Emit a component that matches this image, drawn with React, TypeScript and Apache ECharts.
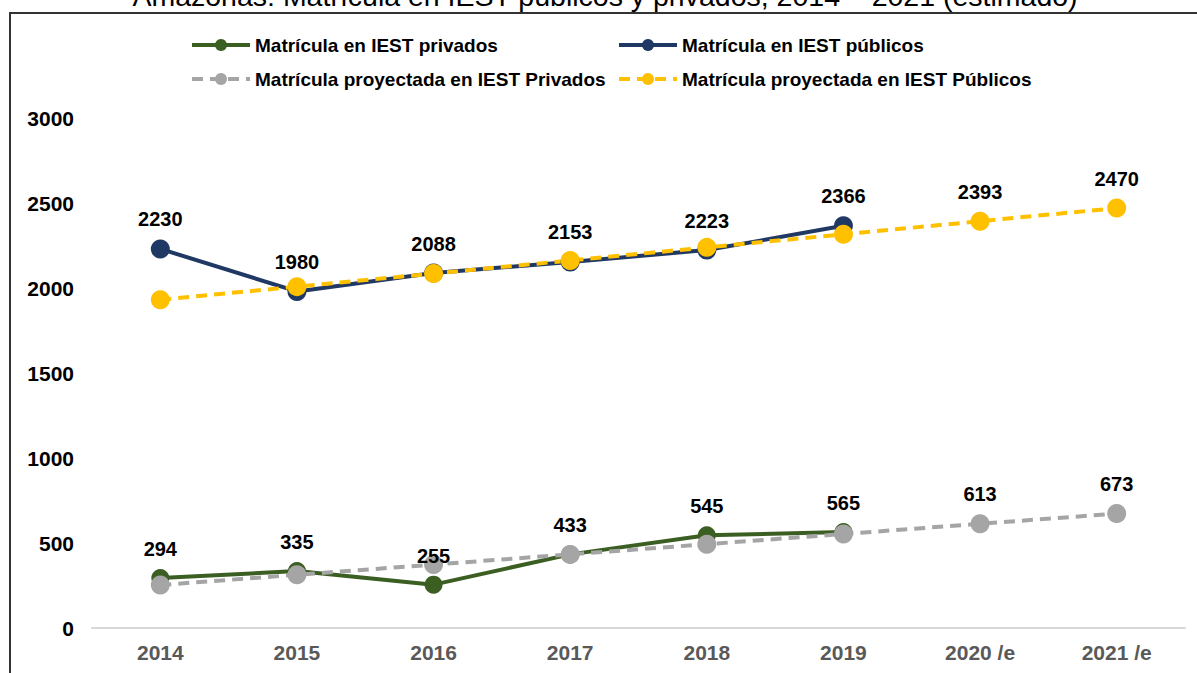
import React, { useEffect, useRef } from "react";
import * as echarts from "echarts";

const years = ["2014", "2015", "2016", "2017", "2018", "2019", "2020 /e", "2021 /e"];
const privados = [294, 335, 255, 433, 545, 565, null, null];
const publicos = [2230, 1980, 2088, 2153, 2223, 2366, null, null];
const proyPrivados = [253, 313, 373, 433, 493, 553, 613, 673];
const proyPublicos = [1931, 2008, 2085, 2162, 2239, 2316, 2393, 2470];
const yTicks = { min: 0, max: 3000, interval: 500 };

const nPriv = "Matrícula en IEST privados";
const nPub = "Matrícula en IEST públicos";
const nProyPriv = "Matrícula proyectada en IEST Privados";
const nProyPub = "Matrícula proyectada en IEST Públicos";
const titleText = "Amazonas: Matrícula en IEST públicos y privados, 2014 – 2021 (estimado)";

const FONT = "'Liberation Sans', Arial, sans-serif";

export default function App() {
  const ref = useRef<HTMLDivElement>(null);
  useEffect(() => {
    if (!ref.current) return;
    const chart = echarts.init(ref.current, null, { renderer: "svg" });
    const labelBase = {
      show: true,
      position: "top",
      distance: 10,
      color: "#000",
      fontWeight: "bold",
      fontSize: 20,
      fontFamily: FONT,
    };
    const projData = (arr: number[]) =>
      arr.map((v, i) => ({ value: v, label: { show: i >= 6 } }));
    const legendText = { color: "#000", fontWeight: "bold", fontSize: 19, fontFamily: FONT, lineHeight: 20 };
    const legendCommon = {
      orient: "vertical",
      top: 35,
      padding: 0,
      itemWidth: 58,
      itemHeight: 15,
      itemGap: 14,
      textStyle: legendText,
      lineStyle: { width: 4 },
    };
    chart.setOption({
      animation: false,
      graphic: [
        {
          type: "rect",
          shape: { x: 10, y: 13, width: 1250, height: 750 },
          style: { fill: "none", stroke: "#333", lineWidth: 2 },
          z: 0,
        },
        {
          type: "text",
          x: 605,
          y: 10,
          style: {
            text: titleText,
            font: `28.5px ${FONT}`,
            fill: "#000",
            textAlign: "center",
            textVerticalAlign: "bottom",
          },
        },
      ],
      legend: [
        { ...legendCommon, left: 190, data: [nPriv, nProyPriv] },
        { ...legendCommon, left: 617, data: [nPub, nProyPub] },
      ],
      grid: { left: 92, right: 12, top: 118, bottom: 45 },
      xAxis: {
        type: "category",
        data: years,
        boundaryGap: true,
        axisLine: { show: true, lineStyle: { color: "#d9d9d9", width: 2 } },
        axisTick: { show: false },
        axisLabel: {
          color: "#595959",
          fontWeight: "bold",
          fontSize: 21,
          fontFamily: FONT,
          margin: 14,
        },
      },
      yAxis: {
        type: "value",
        min: yTicks.min,
        max: yTicks.max,
        interval: yTicks.interval,
        splitLine: { show: false },
        axisLine: { show: false },
        axisTick: { show: false },
        axisLabel: {
          color: "#000",
          fontWeight: "bold",
          fontSize: 21,
          fontFamily: FONT,
          margin: 18,
          formatter: (v: number) => String(v),
        },
      },
      series: [
        {
          name: nPriv,
          type: "line",
          data: privados,
          symbol: "circle",
          symbolSize: 18,
          itemStyle: { color: "#3b5e22" },
          lineStyle: { color: "#3b5e22", width: 4 },
          label: labelBase,
        },
        {
          name: nPub,
          type: "line",
          data: publicos,
          symbol: "circle",
          symbolSize: 19,
          itemStyle: { color: "#203864" },
          lineStyle: { color: "#203864", width: 4 },
          label: labelBase,
        },
        {
          name: nProyPriv,
          type: "line",
          data: projData(proyPrivados),
          symbol: "circle",
          symbolSize: 19,
          itemStyle: { color: "#a5a5a5" },
          lineStyle: { color: "#a5a5a5", width: 4, type: [11, 7] },
          label: labelBase,
        },
        {
          name: nProyPub,
          type: "line",
          data: projData(proyPublicos),
          symbol: "circle",
          symbolSize: 19,
          itemStyle: { color: "#ffc000" },
          lineStyle: { color: "#ffc000", width: 4, type: [11, 7] },
          label: labelBase,
        },
      ],
    });
    return () => chart.dispose();
  }, []);
  return (
    <div
      ref={ref}
      style={{ position: "absolute", left: 0, top: 0, width: 1197, height: 673, background: "#fff" }}
    />
  );
}
